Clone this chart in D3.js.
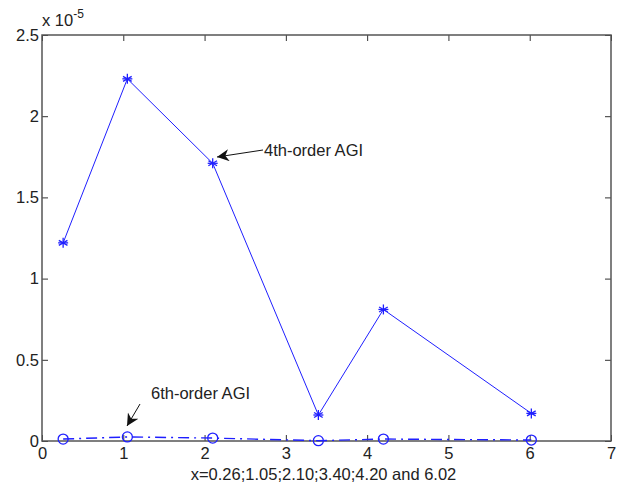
<!DOCTYPE html>
<html>
<head>
<meta charset="utf-8">
<script src="https://cdn.jsdelivr.net/npm/d3@7"></script>
<style>
  body { margin: 0; background: #fff; }
  text { font-family: "Liberation Sans", Arial, sans-serif; fill: #222; }
</style>
</head>
<body>
<div id="chart"></div>
<script>
// data (values in units of 1e-5)
const xValues = [0.26, 1.05, 2.10, 3.40, 4.20, 6.02];
const agi4 = [1.22, 2.23, 1.71, 0.16, 0.81, 0.17];
const agi6 = [0.012, 0.025, 0.018, 0.002, 0.012, 0.006];
const xTicks = [0, 1, 2, 3, 4, 5, 6, 7];
const yTicks = [0, 0.5, 1, 1.5, 2, 2.5];
const yTickLabels = ['0', '0.5', '1', '1.5', '2', '2.5'];

const width = 622, height = 486;
const margin = { top: 35, right: 11, bottom: 45, left: 42 };
const w = width - margin.left - margin.right;
const h = height - margin.top - margin.bottom;
const fs = '16.5px';

const svg = d3.select('#chart').append('svg')
  .attr('width', width)
  .attr('height', height);

svg.append('defs').append('marker')
  .attr('id', 'arrow')
  .attr('viewBox', '0 0 10 10')
  .attr('refX', 10).attr('refY', 5)
  .attr('markerWidth', 13).attr('markerHeight', 12)
  .attr('markerUnits', 'userSpaceOnUse')
  .attr('orient', 'auto')
  .append('path')
  .attr('d', 'M0,0 L10,5 L0,10 L3,5 Z')
  .attr('fill', '#111');

const g = svg.append('g')
  .attr('transform', `translate(${margin.left},${margin.top})`);

const x = d3.scaleLinear().domain([0, 7]).range([0, w]);
const y = d3.scaleLinear().domain([0, 2.5]).range([h, 0]);

// axes with inward ticks on all sides
const axisStyle = sel => {
  sel.select('.domain').remove();
  sel.selectAll('.tick line').attr('stroke', '#333').attr('stroke-width', 1);
  sel.selectAll('.tick text').style('font-size', fs).attr('fill', '#222');
};

g.append('g').attr('transform', `translate(0,${h})`)
  .call(d3.axisBottom(x).tickValues(xTicks).tickSize(-6).tickPadding(6).tickFormat(d3.format('d')))
  .call(axisStyle);
g.append('g')
  .call(d3.axisTop(x).tickValues(xTicks).tickSize(-6).tickFormat(''))
  .call(axisStyle);
g.append('g')
  .call(d3.axisLeft(y).tickValues(yTicks).tickSize(-6).tickPadding(3)
    .tickFormat((d, i) => yTickLabels[i]))
  .call(axisStyle);
g.append('g').attr('transform', `translate(${w},0)`)
  .call(d3.axisRight(y).tickValues(yTicks).tickSize(-6).tickFormat(''))
  .call(axisStyle);

g.append('rect')
  .attr('width', w).attr('height', h)
  .attr('fill', 'none')
  .attr('stroke', '#555')
  .attr('stroke-width', 1.5);

// exponent label
const expo = svg.append('text')
  .attr('x', margin.left).attr('y', margin.top - 9)
  .style('font-size', fs);
expo.append('tspan').text('x 10');
expo.append('tspan').attr('dy', -8).style('font-size', '12px').text('-5');

// x label
svg.append('text')
  .attr('x', margin.left + w / 2 - 3).attr('y', height - 6)
  .attr('text-anchor', 'middle')
  .style('font-size', fs)
  .text('x=0.26;1.05;2.10;3.40;4.20 and 6.02');

const blue = '#1f1fff';

// 4th-order line
const line4 = d3.line().x((d, i) => x(xValues[i])).y(d => y(d));
g.append('path')
  .datum(agi4)
  .attr('d', line4)
  .attr('fill', 'none')
  .attr('stroke', blue)
  .attr('stroke-width', 1);

g.selectAll('.star')
  .data(agi4)
  .enter()
  .append('g')
  .attr('transform', (d, i) => `translate(${x(xValues[i])},${y(d)})`)
  .each(function () {
    const s = d3.select(this);
    const r = 5;
    [0, 60, 120].forEach(a => {
      const rad = a * Math.PI / 180;
      s.append('line')
        .attr('x1', -r * Math.sin(rad)).attr('y1', -r * Math.cos(rad))
        .attr('x2', r * Math.sin(rad)).attr('y2', r * Math.cos(rad))
        .attr('stroke', blue).attr('stroke-width', 1.3);
    });
    s.append('line').attr('x1', -r).attr('x2', r).attr('y1', 0).attr('y2', 0)
      .attr('stroke', blue).attr('stroke-width', 1.3);
  });

// 6th-order line (dash-dot)
g.append('path')
  .datum(agi6)
  .attr('d', line4)
  .attr('fill', 'none')
  .attr('stroke', blue)
  .attr('stroke-width', 1.4)
  .attr('stroke-dasharray', '11,5,2,5');

g.selectAll('.circ')
  .data(agi6)
  .enter()
  .append('circle')
  .attr('cx', (d, i) => x(xValues[i]))
  .attr('cy', d => y(d))
  .attr('r', 5)
  .attr('fill', 'none')
  .attr('stroke', blue)
  .attr('stroke-width', 1.3);

// annotations
g.append('line')
  .attr('x1', 221).attr('y1', 115)
  .attr('x2', 175).attr('y2', 122)
  .attr('stroke', '#111').attr('stroke-width', 1)
  .attr('marker-end', 'url(#arrow)');
g.append('text')
  .attr('x', 222).attr('y', 121)
  .style('font-size', fs)
  .text('4th-order AGI');

g.append('line')
  .attr('x1', 98).attr('y1', 369)
  .attr('x2', 85).attr('y2', 391)
  .attr('stroke', '#111').attr('stroke-width', 1)
  .attr('marker-end', 'url(#arrow)');
g.append('text')
  .attr('x', 109).attr('y', 364)
  .style('font-size', fs)
  .text('6th-order AGI');
</script>
</body>
</html>
